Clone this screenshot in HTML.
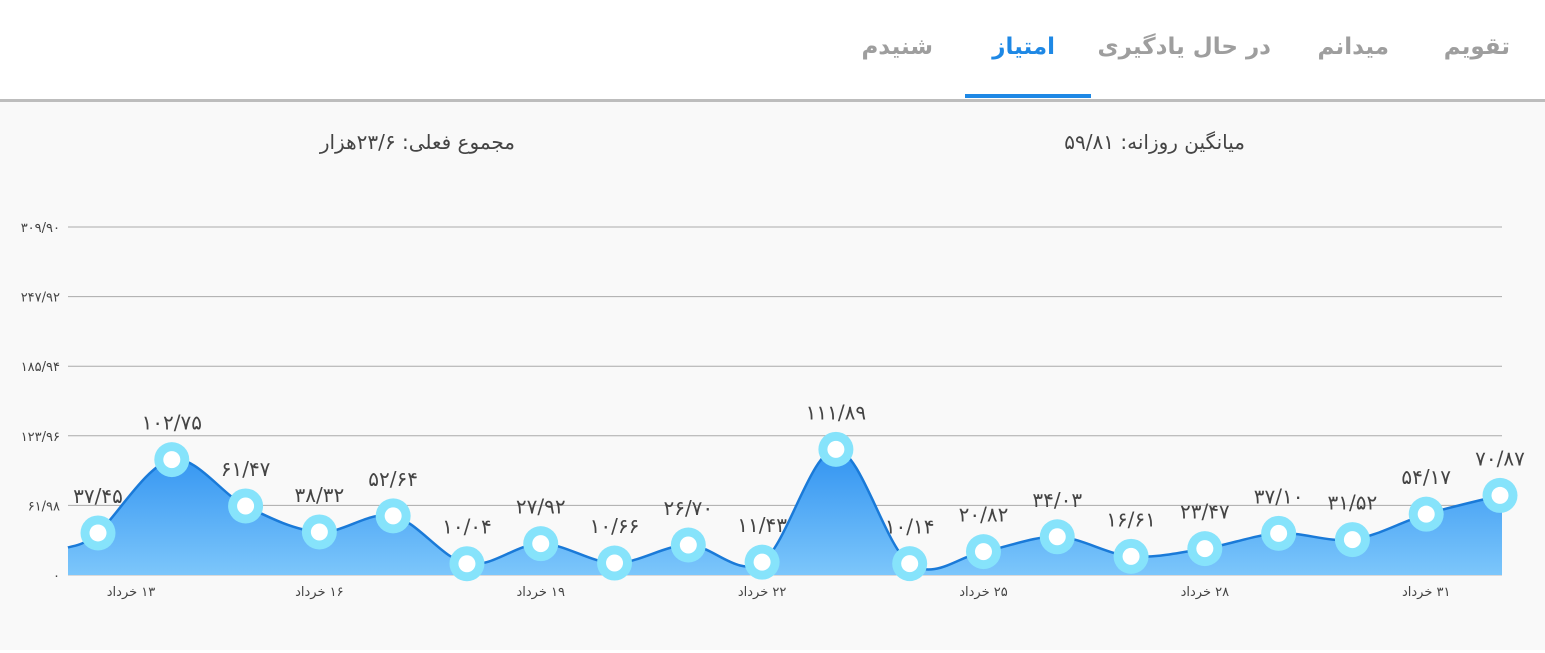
<!DOCTYPE html>
<html><head><meta charset="utf-8"><style>
body{margin:0;width:1545px;height:653px;background:#fff;font-family:"DejaVu Sans","Liberation Sans",sans-serif;overflow:hidden;position:relative}
.tab{position:absolute;top:34px;font-size:23px;font-weight:bold;color:#9e9e9e;direction:rtl;white-space:nowrap;text-align:right}
.hdr{position:absolute;top:130px;font-size:20px;color:#444;direction:rtl;white-space:nowrap;text-align:right}
</style></head><body>
<div style="position:absolute;left:0;top:0;width:1545px;height:100px;background:#fff"></div>
<div class="tab" style="right:35px">تقویم</div>
<div class="tab" style="right:156px">میدانم</div>
<div class="tab" style="right:274px">در حال یادگیری</div>
<div class="tab" style="right:490px;color:#1e88e5">امتیاز</div>
<div class="tab" style="right:612px">شنیدم</div>
<div style="position:absolute;left:965px;top:94px;width:126px;height:4px;background:#1e88e5"></div>
<div style="position:absolute;left:0;top:99px;width:1545px;height:3px;background:#bdbdbd"></div>
<div style="position:absolute;left:0;top:102px;width:1545px;height:548px;background:#f9f9f9"></div>
<div class="hdr" style="right:300px">میانگین روزانه: ۵۹/۸۱</div>
<div class="hdr" style="right:1030px">مجموع فعلی: ۲۳/۶هزار</div>
<svg id="chart" width="1545" height="653" style="position:absolute;left:0;top:0"></svg>
<script>
const categories=["۱۳ خرداد","","","۱۶ خرداد","","","۱۹ خرداد","","","۲۲ خرداد","","","۲۵ خرداد","","","۲۸ خرداد","","","۳۱ خرداد",""];
const values=[37.45,102.75,61.47,38.32,52.64,10.04,27.92,10.66,26.70,11.43,111.89,10.14,20.82,34.03,16.61,23.47,37.10,31.52,54.17,70.87];
const valueLabels=["۳۷/۴۵","۱۰۲/۷۵","۶۱/۴۷","۳۸/۳۲","۵۲/۶۴","۱۰/۰۴","۲۷/۹۲","۱۰/۶۶","۲۶/۷۰","۱۱/۴۳","۱۱۱/۸۹","۱۰/۱۴","۲۰/۸۲","۳۴/۰۳","۱۶/۶۱","۲۳/۴۷","۳۷/۱۰","۳۱/۵۲","۵۴/۱۷","۷۰/۸۷"];
const yTicks=[0,61.98,123.96,185.94,247.92,309.90];
const yTickLabels=["۰","۶۱/۹۸","۱۲۳/۹۶","۱۸۵/۹۴","۲۴۷/۹۲","۳۰۹/۹۰"];
</script>
<script>
const svg=document.getElementById('chart');const NS='http://www.w3.org/2000/svg';
const X0=68,X1=1502,Y0=575,Y1=227,yMax=309.9;
const y=v=>Y0-(v/yMax)*(Y0-Y1);
const x=i=>98+i*(1500-98)/(values.length-1);
function mk(t,a){const e=document.createElementNS(NS,t);for(const k in a)e.setAttribute(k,a[k]);svg.appendChild(e);return e;}
const defs=mk('defs',{});
defs.innerHTML='<linearGradient id="g" gradientUnits="userSpaceOnUse" x1="0" x2="0" y1="440" y2="575"><stop offset="0" stop-color="#2b8ff0"/><stop offset="1" stop-color="#7cc6fb"/></linearGradient>';
yTicks.forEach((t,i)=>{
const l=mk('line',{x1:X0,x2:X1,y1:y(t),y2:y(t),stroke:i===0?'#bbb':'#aaa','stroke-width':1});


const tx=mk('text',{x:60,y:y(t)+5,'text-anchor':'end','font-size':13,fill:'#444'});tx.textContent=yTickLabels[i];


});
const pts=values.map((v,i)=>[x(i),y(v)]);
const first=[X0,pts[0][1]+(pts[0][1]-pts[1][1])*0.2];
const all=[first,...pts];
let d='M'+all[0][0]+','+all[0][1];
for(let i=0;i<all.length-1;i++){
const p0=all[Math.max(0,i-1)],p1=all[i],p2=all[i+1],p3=all[Math.min(all.length-1,i+2)];
const c1=[p1[0]+(p2[0]-p0[0])/6,p1[1]+(p2[1]-p0[1])/6],c2=[p2[0]-(p3[0]-p1[0])/6,p2[1]-(p3[1]-p1[1])/6];
d+=' C'+c1+' '+c2+' '+p2;}
const area=mk('path',{d:d+' L'+X1+','+all[all.length-1][1]+' L'+X1+','+Y0+' L'+X0+','+Y0+'Z',fill:'url(#g)'});


const line=mk('path',{d:d+' L'+X1+','+all[all.length-1][1],fill:'none',stroke:'#1a7ad8','stroke-width':2.5});


pts.forEach((p,i)=>{
const o=mk('circle',{cx:p[0],cy:p[1],r:17.5,fill:'#86e3fb'});


mk('circle',{cx:p[0],cy:p[1],r:8.5,fill:'#fff'});
const t=mk('text',{x:p[0],y:p[1]-30,'text-anchor':'middle','font-size':20,fill:'#444'});t.textContent=valueLabels[i];


if(categories[i]){const c=mk('text',{x:i===0?131:p[0],y:596,'text-anchor':'middle','font-size':13,fill:'#444',direction:'rtl'});c.textContent=categories[i];

}
});
</script>
</body></html>
